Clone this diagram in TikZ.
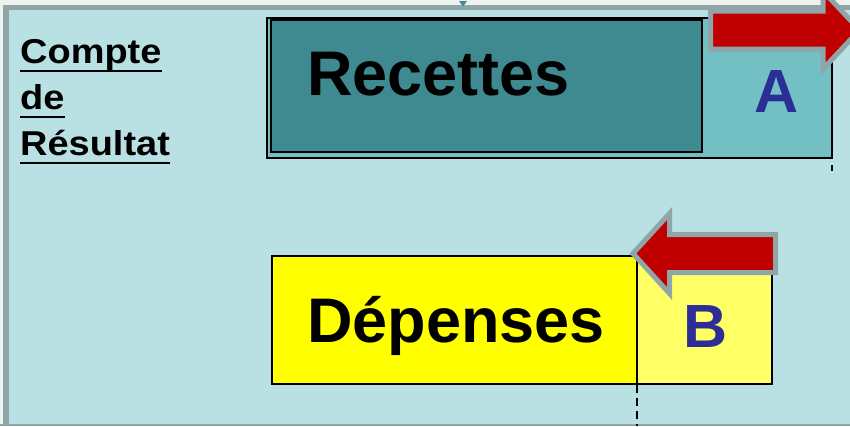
\documentclass[tikz,border=0pt]{standalone}
\usepackage{fontspec}
\setmainfont{Liberation Sans}
\definecolor{bgblue}{HTML}{B9E0E3}
\definecolor{topstrip}{HTML}{EEF2EE}
\definecolor{framegray}{HTML}{8FA5A8}
\definecolor{darkteal}{HTML}{3E8A90}
\definecolor{lightteal}{HTML}{72C0C4}
\definecolor{brightyellow}{HTML}{FFFF00}
\definecolor{paleyellow}{HTML}{FFFF66}
\definecolor{arrowred}{HTML}{C00000}
\definecolor{letterblue}{HTML}{2D2D98}
\tikzset{
  bigtext/.style={inner sep=0pt, font=\bfseries\fontsize{63}{63}\selectfont},
  lettertext/.style={inner sep=0pt, text=letterblue, font=\bfseries\fontsize{61}{61}\selectfont},
  sidetext/.style={inner sep=0pt, anchor=base west, font=\bfseries\fontsize{34.5}{34.5}\selectfont},
  ulline/.style={line width=2pt},
  boxline/.style={draw=black, line width=2pt},
  redarrow/.style={fill=arrowred, draw=framegray, line width=5pt, line join=miter},
  dashline/.style={line width=1.5pt, dash pattern=on 8pt off 5pt}
}
\begin{document}
\begin{tikzpicture}[x=1pt,y=-1pt]
\useasboundingbox (0,0) rectangle (850,426);
\clip (0,0) rectangle (850,426);
% background and frame
\fill[bgblue] (0,0) rectangle (850,426);
\fill[topstrip] (0,0) rectangle (850,4.5);
\fill[framegray] (3,4.5) rectangle (850,10);
\fill[framegray] (3,4.5) rectangle (9,426);
\fill[topstrip] (0,0) rectangle (3,426);
\fill[framegray] (0,424) rectangle (850,426);
\fill[darkteal] (459,1) -- (467,1) -- (463,6.5) -- cycle;

% left title
\node[sidetext] (t1) at (20,63) {\scalebox{1.1}[1]{Compte}};
\node[sidetext] (t2) at (20,109) {\scalebox{1.1}[1]{de}};
\node[sidetext] (t3) at (20,155) {\scalebox{1.1}[1]{Résultat}};
\foreach \n in {t1,t2,t3}
  \draw[ulline] ([yshift=-8pt]\n.base west) -- ([yshift=-8pt]\n.base east);

% Recettes block
\draw[fill=lightteal, line width=1.5pt] (267,18) rectangle (832,158);
\draw[fill=darkteal, boxline] (271,20) rectangle (702,152);
\node[bigtext, anchor=base west] (rec) at (307,95) {Recettes};
\node[lettertext, anchor=base] (la) at (777,112) {A};
\draw[dashline] (832,165) -- (832,171);

% Depenses block
\fill[brightyellow] (272,256) rectangle (637,384);
\fill[paleyellow] (637,256) rectangle (772,384);
\draw[boxline] (272,256) rectangle (772,384);
\draw[boxline] (637,256) -- (637,384);
\draw[dashline] (637,385) -- (637,426);
\node[bigtext, anchor=base west] (dep) at (307,342) {Dépenses};
\node[lettertext, anchor=base] (lb) at (706,347) {B};

% arrows
\draw[redarrow] (710.5,11) -- (823,11) -- (823,-9) -- (859.5,30) -- (823,69) -- (823,49) -- (710.5,49) -- cycle;
\draw[redarrow] (775.5,234.5) -- (669.5,234.5) -- (669.5,213.5) -- (633,253.5) -- (669.5,293.5) -- (669.5,272.5) -- (775.5,272.5) -- cycle;
\end{tikzpicture}
\end{document}
